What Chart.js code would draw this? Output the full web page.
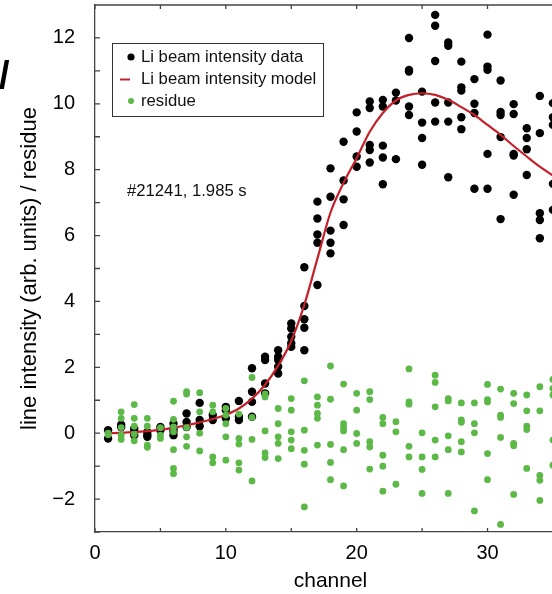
<!DOCTYPE html>
<html>
<head>
<meta charset="utf-8">
<script src="https://cdn.jsdelivr.net/npm/chart.js@4.4.1/dist/chart.umd.min.js"></script>
<style>
  html, body { margin: 0; padding: 0; background: #fff; overflow: hidden; }
  #wrap { width: 552px; height: 594px; overflow: hidden; position: relative; }
</style>
</head>
<body>
<div id="wrap"><canvas id="chart" width="600" height="594"></canvas></div>
<script>
// channels 1..35 (the plot continues past the right edge of the picture)
const channels = [1,2,3,4,5,6,7,8,9,10,11,12,13,14,15,16,17,18,19,20,21,22,23,24,25,26,27,28,29,30,31,32,33,34,35];

// Li beam intensity data, several samples per channel
const beamData = [
  [0.09,-0.16],[0.26,0.18],[0.14,-0.06,0.05],[0.04,-0.11,-0.05],[0.19,0.09],
  [0.29,0.14,-0.06,0.05],[0.6,0.34,0.19],[0.92,0.4,0.21],[0.55,0.4],[0.8,0.7,0.45],
  [0.98,0.4,0.5],[1.97,1.26,0.95,0.5],[2.32,2.22,1.51,1.21],[2.52,2.32,2.22,2.02,1.81],[3.33,3.18,2.93,2.73,2.62],
  [5.04,3.86,3.46,3.2,2.52],[7.03,6.52,6.03,5.78,4.5],[8.04,7.18,6.15,5.78,5.46],[8.85,7.67,7.1,6.32],[9.74,9.16,8.4,8.09],
  [10.07,9.87,8.75,8.6,8.22],[10.12,9.92,8.73,8.37,7.56],[10.34,10.1,8.32],[12.0,11.03,10.98,9.92,9.66],[10.37,9.43,8.96,8.15],
  [12.7,12.37,11.3,10.04,9.46],[11.86,11.76,10.04,9.46,7.77],[11.28,10.5,10.4,9.59,9.23],[10.75,10.0,9.72,7.42],[12.1,11.13,11.03,8.48,7.42],
  [10.71,9.75,9.66,8.99,6.5],[9.99,9.69,8.48,8.43,7.24],[9.26,8.96,8.62,7.84],[10.24,9.11,6.68,6.47,5.92],[10.02,9.59,9.36,7.57,6.78]
];

// residue (data - model)
const residue = [
  [0.0,-0.05],[0.65,0.45,0.17,-0.06,-0.19],[0.87,0.45,0.21,-0.03,-0.23],[0.45,0.21,-0.36,-0.43],[0.17,-0.06,-0.16],
  [0.97,0.42,0.19,0.04,-0.5,-1.07,-1.23],[1.26,1.19,0.17,-0.11,-0.4],[1.23,0.65,0.0,-0.54],[0.85,0.65,-0.72,-0.9],[0.75,0.55,0.29,-0.11,-0.82],
  [0.58,-0.16,-0.33,-0.9,-1.12],[1.69,0.48,-0.19,-1.45],[1.19,1.1,0.07,-0.6,-0.74],[0.75,0.29,-0.11,-0.31,-0.77],[1.05,0.7,0.04,-0.21,-0.47],
  [1.59,0.09,-0.52,-0.94,-2.24],[1.1,0.85,0.6,0.45,-0.36],[2.04,1.03,-0.34,-0.89,-1.41],[1.49,0.29,0.17,0.07,-0.5,-1.6],[1.21,0.7,-0.01,-0.31],
  [1.26,1.02,-0.26,-0.42,-1.09],[0.48,0.29,-0.67,-1.0,-1.76],[0.35,0.04,-1.55],[1.95,0.95,0.88,-0.4,-0.72],[0.01,-0.72,-1.1,-1.83],
  [1.76,1.54,0.8,-0.21,-0.72],[1.05,0.98,-0.08,-0.5,-1.83],[0.92,0.4,0.33,-0.26,-0.57],[0.92,0.29,0.01,-2.36],[1.48,1.02,0.95,-0.62,-1.41],
  [1.34,0.55,0.48,-0.13,-2.77],[1.21,0.9,-0.31,-0.38,-1.86],[1.16,0.68,0.21,0.11,-1.07],[1.41,0.68,-1.28,-1.43,-2.04],[1.63,1.36,1.16,-0.21,-0.97]
];

// Li beam intensity model
const model = [0.0,0.01,0.03,0.06,0.1,0.16,0.24,0.33,0.43,0.56,0.75,1.05,1.47,2.05,2.8,3.9,5.3,6.7,7.6,8.35,
  9.15,9.72,10.1,10.27,10.32,10.27,10.12,9.9,9.66,9.36,9.06,8.72,8.4,8.09,7.82];

const xTicks = [0, 10, 20, 30];
const yTicks = [-2, 0, 2, 4, 6, 8, 10, 12];

const GREEN = '#5cb847';
const RED = '#c3202a';
const AXIS = '#444';
const FONT = "'Liberation Sans', Arial, sans-serif";

const points = (arr) => {
  const out = [];
  arr.forEach((vals, i) => vals.forEach(v => out.push({ x: channels[i], y: v })));
  return out;
};

// inward ticks, top frame line, legend box and shot label
const extras = {
  id: 'extras',
  afterDraw(c) {
    const ctx = c.ctx;
    const { left, right, top, bottom } = c.chartArea;
    const xs = c.scales.x, ys = c.scales.y;
    ctx.save();
    ctx.strokeStyle = AXIS;
    ctx.lineWidth = 1.3;
    ctx.beginPath();
    ctx.moveTo(left, top); ctx.lineTo(right, top);
    xs.ticks.forEach(t => {
      if (t.value % 5) return;
      const p = xs.getPixelForValue(t.value);
      ctx.moveTo(p, bottom); ctx.lineTo(p, bottom - 4);
      ctx.moveTo(p, top); ctx.lineTo(p, top + 4);
    });
    ys.ticks.forEach(t => {
      const p = ys.getPixelForValue(t.value);
      ctx.moveTo(left, p); ctx.lineTo(left + 5, p);
    });
    ctx.stroke();

    // legend
    ctx.fillStyle = '#fff';
    ctx.fillRect(112, 43, 211, 73);
    ctx.strokeStyle = '#333';
    ctx.lineWidth = 1;
    ctx.strokeRect(112.5, 43.5, 211, 73);
    const rows = [
      { label: 'Li beam intensity data', y: 57 },
      { label: 'Li beam intensity model', y: 79.5 },
      { label: 'residue', y: 101 }
    ];
    ctx.fillStyle = '#000';
    ctx.beginPath(); ctx.arc(131, rows[0].y, 3.6, 0, Math.PI * 2); ctx.fill();
    ctx.strokeStyle = RED; ctx.lineWidth = 2;
    ctx.beginPath(); ctx.moveTo(120, rows[1].y); ctx.lineTo(130, rows[1].y); ctx.stroke();
    ctx.fillStyle = GREEN;
    ctx.beginPath(); ctx.arc(131, rows[2].y, 3, 0, Math.PI * 2); ctx.fill();
    ctx.fillStyle = '#111';
    ctx.font = '16.7px ' + FONT;
    ctx.textBaseline = 'middle';
    rows.forEach(r => ctx.fillText(r.label, 141, r.y));

    ctx.fillText('#21241, 1.985 s', 127, 191);

    // clipped glyph from the neighbouring panel
    ctx.fillStyle = '#000';
    ctx.font = 'bold 38px ' + FONT;
    ctx.textBaseline = 'alphabetic';
    ctx.fillText('/', -1, 88);
    ctx.restore();
  }
};

new Chart(document.getElementById('chart'), {
  type: 'scatter',
  data: {
    datasets: [
      {
        label: 'Li beam intensity data',
        data: points(beamData),
        backgroundColor: '#000',
        borderWidth: 0,
        pointRadius: 4.2,
        order: 3
      },
      {
        label: 'Li beam intensity model',
        type: 'line',
        data: model.map((v, i) => ({ x: channels[i], y: v })),
        borderColor: RED,
        borderWidth: 2.2,
        pointRadius: 0,
        cubicInterpolationMode: 'monotone',
        order: 2
      },
      {
        label: 'residue',
        data: points(residue),
        backgroundColor: GREEN,
        borderWidth: 0,
        pointRadius: 3.4,
        order: 1
      }
    ]
  },
  options: {
    responsive: false,
    animation: false,
    layout: { padding: { top: 5, right: 34, left: 0, bottom: 0 } },
    plugins: { legend: { display: false }, tooltip: { enabled: false } },
    scales: {
      x: {
        type: 'linear',
        min: 0, max: 36,
        afterFit: s => { s.height = 62; s.paddingLeft = 0; s.paddingRight = 0; },
        grid: { display: false },
        border: { display: true, color: AXIS, width: 1.3 },
        ticks: {
          stepSize: 5,
          padding: 1,
          color: '#000',
          font: { family: FONT, size: 20 },
          maxRotation: 0,
          callback: v => xTicks.includes(v) ? String(v) : ''
        },
        title: { display: true, text: 'channel', color: '#000', font: { family: FONT, size: 21 }, padding: { top: 0, bottom: 0 } }
      },
      y: {
        min: -3, max: 13,
        afterFit: s => { s.width = 95; s.paddingTop = 0; s.paddingBottom = 0; },
        grid: { display: false },
        border: { display: true, color: AXIS, width: 1.3 },
        ticks: {
          stepSize: 1,
          padding: 12,
          color: '#000',
          font: { family: FONT, size: 20 },
          callback: v => yTicks.includes(v) ? (v < 0 ? '\u2212' + Math.abs(v) : String(v)) : ''
        },
        title: { display: true, text: 'line intensity (arb. units) / residue', color: '#000', font: { family: FONT, size: 22 }, padding: { top: 17, bottom: 0 } }
      }
    }
  },
  plugins: [extras]
});
</script>
</body>
</html>
